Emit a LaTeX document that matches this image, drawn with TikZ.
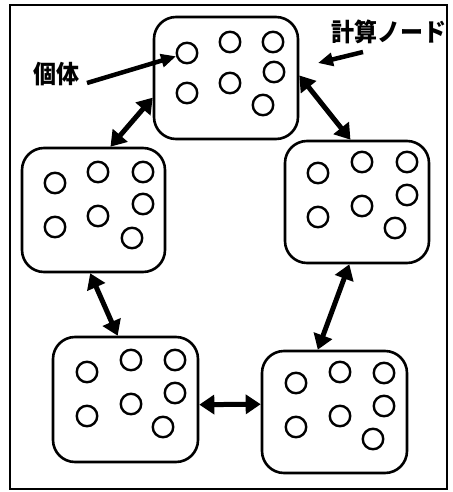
\documentclass[tikz,border=0pt]{standalone}
\usepackage{fontspec}
\usepackage{graphicx}
\newfontfamily\jp{Noto Sans CJK JP}
\usetikzlibrary{arrows.meta}

\tikzset{
  nodebox/.style={draw, line width=2.6pt, rounded corners=22pt, inner sep=0pt,
    minimum width=144pt, minimum height=122pt},
  indiv/.style={draw, circle, line width=2.4pt, inner sep=0pt, minimum size=20.5pt},
  link/.style={line width=5pt, {Triangle[length=15pt,width=19pt]}-{Triangle[length=15pt,width=19pt]}},
  pointer/.style={line width=4.5pt, -{Triangle[length=15pt,width=13pt]}},
  lbl/.style={inner sep=0pt, font=\jp\bfseries\fontsize{25pt}{25pt}\selectfont}
}
\newcommand\narrow[1]{\scalebox{0.92}[1]{#1}}

\begin{document}
\begin{tikzpicture}[x=1pt, y=-1pt]
  \useasboundingbox (0,0) rectangle (452,492);
  \draw[line width=2pt] (10,5) rectangle (447,489);

  % computing nodes
  \node[nodebox] (top) at (226,78) {};
  \node[nodebox, minimum width=143pt, minimum height=124pt] (left) at (93.5,210) {};
  \node[nodebox] (right) at (357,202) {};
  \node[nodebox, minimum width=145pt, minimum height=125pt] (bl) at (125.5,399.5) {};
  \node[nodebox, minimum width=145pt] (br) at (334.5,412) {};

  % individuals in each node
  \foreach \n/\p in {1/{187,53},2/{230,42},3/{273,42},4/{274,72},5/{230,83},6/{187,93},7/{263,105}}
    \node[indiv] (t\n) at (\p) {};
  \foreach \n/\p in {1/{55,183},2/{98,172},3/{143,172},4/{143,204},5/{98,216},6/{55,227},7/{132,238}}
    \node[indiv] (l\n) at (\p) {};
  \foreach \n/\p in {1/{318,173},2/{362,162},3/{407,162},4/{407,195},5/{362,206},6/{318,217},7/{395,228}}
    \node[indiv] (r\n) at (\p) {};
  \foreach \n/\p in {1/{87,372},2/{131,360},3/{175,360},4/{175,393},5/{131,404},6/{87,416},7/{163,427}}
    \node[indiv] (bl\n) at (\p) {};
  \foreach \n/\p in {1/{296,383},2/{340,372},3/{384,373},4/{384,406},5/{340,416},6/{296,427},7/{373,439}}
    \node[indiv] (br\n) at (\p) {};

  % migration links between neighbouring nodes
  \draw[link] (top.195) -- (left.75);
  \draw[link] (top.2) -- (right.96);
  \draw[link] (left.267) -- (bl.97);
  \draw[link] (right.263) -- (br.105);
  \draw[link] (bl.356) -- (br.174);

  % labels
  \node[lbl] (kotai) at (56,74) {\narrow{個体}};
  \coordinate (kotaiarr) at (87,83);
  \draw[pointer] (kotaiarr) -- (t1);

  \node[lbl] (keisan) at (389,32) {\narrow{計算ノード}};
  \coordinate (keisanfrom) at (363,52);
  \coordinate (keisanto) at (318,63);
  \draw[pointer] (keisanfrom) -- (keisanto);
\end{tikzpicture}
\end{document}
